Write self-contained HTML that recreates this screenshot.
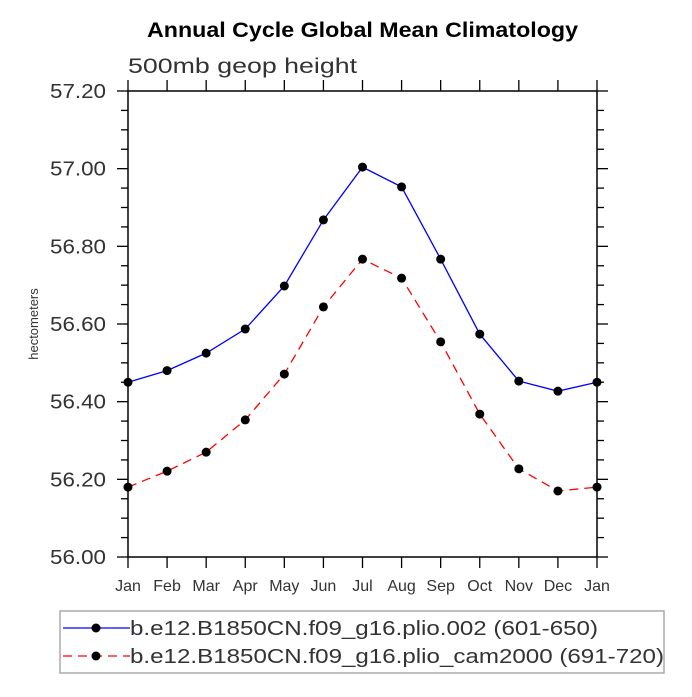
<!DOCTYPE html>
<html><head><meta charset="utf-8"><style>
body{margin:0;background:#fff}
svg text{font-family:"Liberation Sans",sans-serif}
</style></head><body>
<svg id="chart" width="692" height="692" xmlns="http://www.w3.org/2000/svg">
<text x="147" y="37" textLength="431" lengthAdjust="spacingAndGlyphs" font-size="21" font-weight="bold">Annual Cycle Global Mean Climatology</text>
<text x="128" y="73" textLength="229" lengthAdjust="spacingAndGlyphs" font-size="21" fill="#333">500mb geop height</text>
<text transform="translate(38,324) rotate(-90)" text-anchor="middle" font-size="13" fill="#333">hectometers</text>
<g id="axes"></g>
<g id="series"></g>
<rect x="60" y="611" width="604" height="62" fill="none" stroke="#aaa" stroke-width="1.5"/>
<g>
<line x1="63" y1="628" x2="130" y2="628" stroke="#00f" stroke-width="1.3"/>
<circle cx="96" cy="628" r="4.5" fill="#000"/>
<text x="130" y="635" textLength="468" lengthAdjust="spacingAndGlyphs" font-size="20" fill="#333">b.e12.B1850CN.f09_g16.plio.002 (601-650)</text>
</g>
<g>
<line x1="63" y1="656" x2="130" y2="656" stroke="#f00" stroke-width="1.3" stroke-dasharray="9,6"/>
<circle cx="96" cy="656" r="4.5" fill="#000"/>
<text x="130" y="663" textLength="534" lengthAdjust="spacingAndGlyphs" font-size="20" fill="#333">b.e12.B1850CN.f09_g16.plio_cam2000 (691-720)</text>
</g>
</svg>
<script>
const months=["Jan","Feb","Mar","Apr","May","Jun","Jul","Aug","Sep","Oct","Nov","Dec","Jan"];
const yTicks=[56.00,56.20,56.40,56.60,56.80,57.00,57.20];
const plio002=[56.45,56.48,56.525,56.587,56.698,56.868,57.004,56.953,56.767,56.574,56.453,56.427,56.45];
const plioCam2000=[56.18,56.221,56.27,56.353,56.471,56.644,56.767,56.718,56.554,56.368,56.227,56.17,56.18];
const L=128,R=597,T=91,B=557,ymin=56.0,ymax=57.2;
const xs=i=>L+(R-L)*i/(months.length-1);
const ys=v=>B-(v-ymin)/(ymax-ymin)*(B-T);
const NS="http://www.w3.org/2000/svg";
function mk(tag,attrs,parent){const e=document.createElementNS(NS,tag);for(const k in attrs)e.setAttribute(k,attrs[k]);parent.appendChild(e);return e;}
const ax=document.getElementById('axes');
const frame=mk('rect',{x:L,y:T,width:R-L,height:B-T,fill:'none',stroke:'#000','stroke-width':1.5},ax);


months.forEach((m,i)=>{
  const x=xs(i);
  mk('line',{x1:x,y1:B,x2:x,y2:B+11,stroke:'#000','stroke-width':1.3},ax);
  mk('line',{x1:x,y1:T,x2:x,y2:T-11,stroke:'#000','stroke-width':1.3},ax);
  const t=mk('text',{x:x,y:591,'text-anchor':'middle','font-size':16,fill:'#333'},ax);
  t.textContent=m;
  
  
});
for(let v=ymin;v<=ymax+1e-9;v+=0.05){
  const y=ys(v);
  const major=Math.abs(Math.round(v*5)-v*5)<1e-6;
  const len=major?11:7;
  mk('line',{x1:L,y1:y,x2:L-len,y2:y,stroke:'#000','stroke-width':1.3},ax);
  mk('line',{x1:R,y1:y,x2:R+len,y2:y,stroke:'#000','stroke-width':1.3},ax);
}
yTicks.forEach(v=>{
  const t=mk('text',{x:50,y:ys(v)+7,textLength:56,lengthAdjust:'spacingAndGlyphs','font-size':20,fill:'#333'},ax);
  t.textContent=v.toFixed(2);
  
  
});
const sg=document.getElementById('series');
function draw(data,color,dash,name){
  const g=mk('g',{},sg);
  
  
  const pts=data.map((v,i)=>xs(i)+','+ys(v)).join(' ');
  const pl=mk('polyline',{points:pts,fill:'none',stroke:color,'stroke-width':1.3},g);
  if(dash)pl.setAttribute('stroke-dasharray',dash);
  data.forEach((v,i)=>{
    const c=mk('circle',{cx:xs(i),cy:ys(v),r:4.5,fill:'#000'},g);
    
    
  });
}
draw(plio002,'#00f',null,'series-plio002');
draw(plioCam2000,'#f00','9,6','series-plio-cam2000');
</script>
</body></html>
